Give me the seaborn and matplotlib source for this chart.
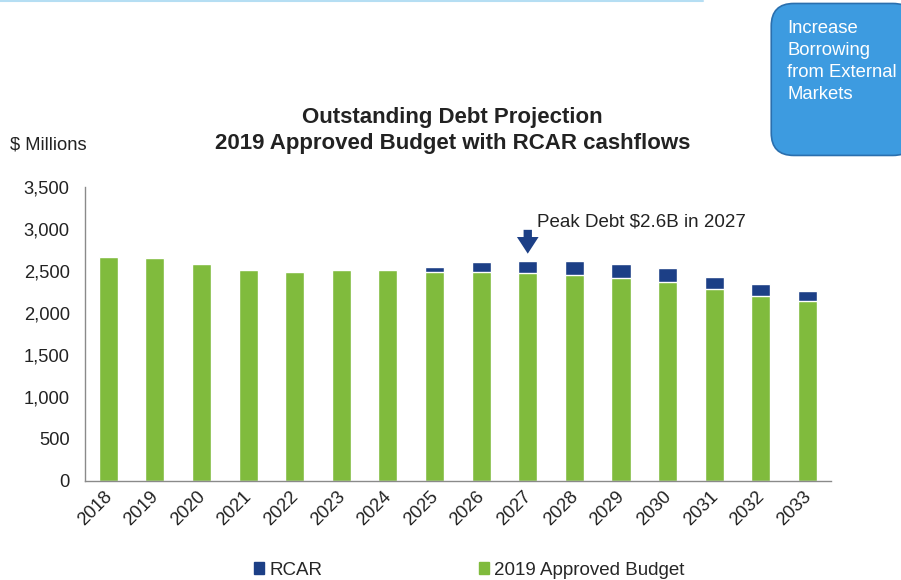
import matplotlib
matplotlib.use("Agg")
import matplotlib.pyplot as plt
import matplotlib.transforms as mtransforms
from matplotlib.patches import FancyBboxPatch, Patch
import seaborn as sns
import pandas as pd

# Outstanding debt, $ millions
years = [str(y) for y in range(2018, 2034)]
budget_2019 = [2670, 2655, 2580, 2508, 2488, 2508, 2515, 2492,
               2488, 2480, 2452, 2420, 2365, 2282, 2202, 2143]
rcar = [0, 0, 0, 0, 0, 0, 0, 56,
        116, 143, 163, 160, 167, 150, 140, 119]
y_ticks = [0, 500, 1000, 1500, 2000, 2500, 3000, 3500]

GREEN = "#80bb3d"
BLUE = "#1c3f86"
TEXT = "#222222"

sns.set_theme(style="white")
plt.rcParams["font.family"] = ["Liberation Sans", "DejaVu Sans"]

df = pd.DataFrame({"year": years, "budget": budget_2019, "rcar": rcar})
df["total"] = df["budget"] + df["rcar"]

fig = plt.figure(figsize=(9.01, 5.80), dpi=100)
ax = fig.add_axes([0.0943, 0.1707, 0.8277, 0.5069])

# stacked bars: full height in RCAR blue, budget portion drawn over it
sns.barplot(data=df, x="year", y="total", color=BLUE, width=0.41,
            saturation=1, ax=ax)
sns.barplot(data=df, x="year", y="budget", color=GREEN, width=0.41,
            saturation=1, ax=ax)

ax.set_xlim(-0.5, len(years) - 0.5)
ax.set_ylim(0, 3500)
ax.set_yticks(y_ticks)
ax.set_yticklabels([f"{v:,}" for v in y_ticks], fontsize=13.2, color=TEXT)
ax.set_xlabel("")
ax.set_ylabel("")
ax.tick_params(axis="both", length=0)
ax.tick_params(axis="y", pad=11)
ax.tick_params(axis="x", pad=5)
shift = mtransforms.ScaledTranslation(-5 / 100, 0, fig.dpi_scale_trans)
for lbl in ax.get_xticklabels():
    lbl.set_rotation(45)
    lbl.set_ha("right")
    lbl.set_rotation_mode("anchor")
    lbl.set_fontsize(13.2)
    lbl.set_color(TEXT)
    lbl.set_transform(lbl.get_transform() + shift)

for side in ("top", "right"):
    ax.spines[side].set_visible(False)
for side in ("left", "bottom"):
    ax.spines[side].set_color("#8a8a8a")
    ax.spines[side].set_linewidth(1.0)

# titles
fig.text(0.502, 0.798, "Outstanding Debt Projection", ha="center", va="center",
         fontsize=16, fontweight="bold", color=TEXT)
fig.text(0.502, 0.753, "2019 Approved Budget with RCAR cashflows", ha="center",
         va="center", fontsize=16, fontweight="bold", color=TEXT)
fig.text(0.011, 0.750, "$ Millions", ha="left", va="center", fontsize=13.2,
         color=TEXT)

# peak annotation
peak_idx = years.index("2027")
peak_total = df["total"][peak_idx]
ax.annotate("", xy=(peak_idx, peak_total + 50), xytext=(peak_idx, peak_total + 400),
            arrowprops=dict(arrowstyle="simple,head_width=1.3,head_length=1.0,tail_width=0.5",
                            color=BLUE, lw=0))
ax.text(peak_idx + 0.2, peak_total + 460, "Peak Debt $2.6B in 2027", ha="left",
        va="center", fontsize=13.5, color=TEXT)

# callout box
box = FancyBboxPatch((0.856, 0.732), 0.16, 0.262, transform=fig.transFigure,
                     boxstyle="round,pad=0,rounding_size=0.025",
                     facecolor="#3d9be0", edgecolor="#2a6fae", lw=1.2,
                     mutation_aspect=901 / 580)
fig.patches.append(box)
fig.text(0.874, 0.965, "Increase\nBorrowing\nfrom External\nMarkets", ha="left",
         va="top", fontsize=13.3, color="white", linespacing=1.38)

# thin accent line along the top
fig.add_artist(plt.Line2D([0.0, 0.78], [0.999, 0.999], transform=fig.transFigure,
                          color="#b5def3", lw=1.5))

handles = [Patch(facecolor=BLUE, edgecolor=BLUE),
           Patch(facecolor=GREEN, edgecolor=GREEN)]
fig.legend(handles, ["RCAR", "2019 Approved Budget"], loc="center",
           bbox_to_anchor=(0.521, 0.017), ncol=2, frameon=False, fontsize=13.5,
           handlelength=0.55, handleheight=0.55, handletextpad=0.3,
           columnspacing=8.3)

fig.savefig("out.png", dpi=100, facecolor="white")
